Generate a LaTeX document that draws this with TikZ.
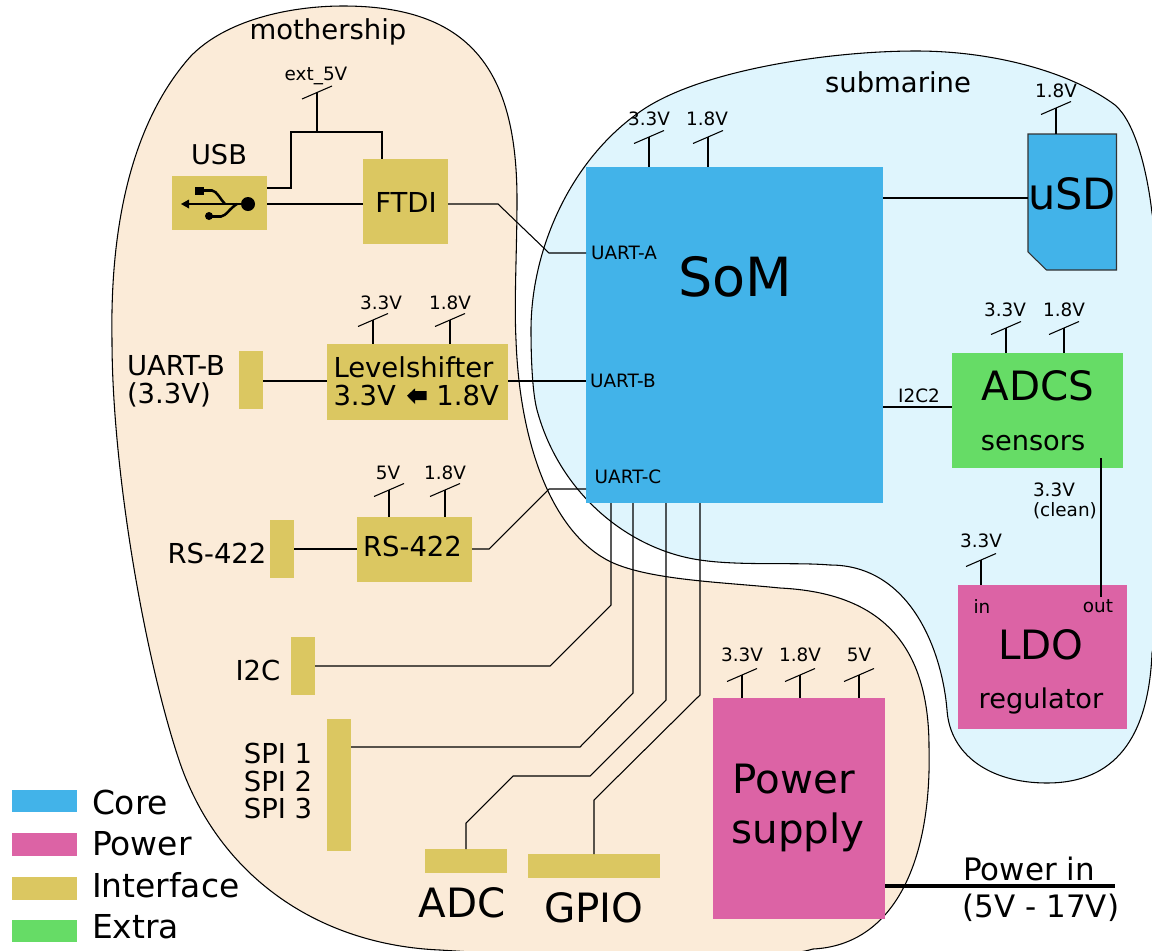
\documentclass[tikz,border=0pt]{standalone}
\usepackage{fontspec}
\setmainfont{DejaVu Sans}

\definecolor{corecol}{RGB}{66,179,233}
\definecolor{powercol}{RGB}{220,99,165}
\definecolor{ifacecol}{RGB}{219,199,97}
\definecolor{extracol}{RGB}{102,220,102}
\definecolor{mothercol}{RGB}{251,235,216}
\definecolor{subcol}{RGB}{223,245,253}

\tikzset{
	wire/.style={line width=0.8pt, line join=miter},
	blob/.style={line width=0.8pt, draw=black},
	block/.style 2 args={inner sep=0pt, outer sep=0pt, rectangle, minimum width=#1*0.75pt, minimum height=#2*0.75pt},
	txt/.style={inner sep=0pt, outer sep=0pt, font=\fontsize{#1}{#1}\selectfont},
}

% tick on a supply rail: name, position, label position, label
\newcommand{\railtick}[4]{
	\coordinate (#1) at (#2);
	\draw[wire] ([shift={(-15,6.5)}]#1) -- ([shift={(15,-6.5)}]#1);
	\node[txt=13.8] (#1text) at (#3) {#4};
}

\begin{document}
\begin{tikzpicture}[x=0.75pt, y=-0.75pt]
	\useasboundingbox (0,0) rectangle (1152,950);
	
	% Hai vùng nền
	\fill[white] (0,0) rectangle (1152,950);
	\draw[blob, fill=mothercol] (343,6) .. controls (470,6) and (517,70) .. (517,200)
		.. controls (517,250) and (514,300) .. (516,340)
		.. controls (520,450) and (555,535) .. (611,562)
		.. controls (650,580) and (720,582) .. (780,588)
		.. controls (860,592) and (929,625) .. (929,747)
		.. controls (932,860) and (895,945) .. (813,949)
		.. controls (760,965) and (560,958) .. (440,950)
		.. controls (320,945) and (220,878) .. (180,763)
		.. controls (145,660) and (112,470) .. (112,340)
		.. controls (110,230) and (130,125) .. (190,57)
		.. controls (225,20) and (290,6) .. (343,6) -- cycle;
	\draw[blob, fill=subcol] (916,51) .. controls (1000,51) and (1075,75) .. (1115,105)
		.. controls (1135,122) and (1147,170) .. (1152,213)
		.. controls (1180,350) and (1175,550) .. (1152,653)
		.. controls (1148,750) and (1105,783) .. (1047,783)
		.. controls (990,783) and (950,755) .. (947,710)
		.. controls (942,650) and (910,565) .. (830,565)
		.. controls (795,562) and (740,566) .. (700,560)
		.. controls (630,550) and (560,495) .. (537,410)
		.. controls (533,395) and (531,365) .. (531,330)
		.. controls (531,250) and (570,160) .. (641,111)
		.. controls (700,70) and (830,51) .. (916,51) -- cycle;
	
	% Khối chính
	\node[block={297}{336}, fill=corecol] (som) at (734.5,335) {};
	\node[txt=40.5] (somtext) at (735,277) {SoM};
	\node[txt=13.8] (uarta) at (624,253) {UART-A};
	\node[txt=13.8] (uartb) at (623,381) {UART-B};
	\node[txt=13.8] (uartc) at (628,477) {UART-C};
	
	% uSD
	\draw[line width=0.8pt, draw=black!80, fill=corecol] (1028,134) -- (1116.5,134) -- (1116.5,270) -- (1046.5,270) -- (1028,252) -- cycle;
	\node[block={88.5}{136}] (usd) at (1072.25,202) {};
	\node[txt=32.3] (usdtext) at (1072,194) {uSD};
	
	% Các khối giao tiếp
	\node[block={95}{54}, fill=ifacecol] (usb) at (219.5,203) {};
	\node[block={85}{85}, fill=ifacecol] (ftdi) at (405.5,201.5) {};
	\node[txt=20.6] (ftditext) at (406,202) {FTDI};
	\node[block={181}{76}, fill=ifacecol] (ls) at (417.5,382) {};
	\node[txt=20.6, align=left, anchor=west] (lstext) at (333.5,381) {Levelshifter\\[0.5pt]3.3V \phantom{⬅} 1.8V};
	\fill (407,395.7) -- (415,388.3) -- (415,391) -- (426.7,391) -- (426.7,400) -- (415,400) -- (415,404) -- cycle;
	\node[block={24}{58}, fill=ifacecol] (uartbport) at (251,380) {};
	\node[block={115}{65}, fill=ifacecol] (rs) at (414.5,549.5) {};
	\node[txt=20.6] (rstext) at (412.5,546) {RS-422};
	\node[block={24}{58}, fill=ifacecol] (rsport) at (282,549) {};
	\node[block={24}{58}, fill=ifacecol] (i2cport) at (303,666) {};
	\node[block={24}{132}, fill=ifacecol] (spiport) at (339,785) {};
	\node[block={82}{24}, fill=ifacecol] (adc) at (466,861) {};
	\node[block={132}{24}, fill=ifacecol] (gpio) at (594,866) {};
	
	% Nguồn và phần mở rộng
	\node[block={172}{221}, fill=powercol] (psu) at (799,808.5) {};
	\node[block={169}{144}, fill=powercol] (ldo) at (1042.5,657) {};
	\node[block={171}{115}, fill=extracol] (adcs) at (1037.5,410.5) {};
	
	% Biểu tượng USB
	\draw[line width=1.9pt] (186,204) -- (248,204);
	\fill (181,204) -- (189,199.5) -- (189,208.5) -- cycle;
	\fill (248,204) circle (7);
	\fill (195,187) rectangle (203.5,195);
	\draw[line width=1.9pt] (203,190.5) -- (212,190.5) .. controls (217,191) and (220,199) .. (225,204);
	\fill (209,216) circle (4);
	\draw[line width=1.9pt] (209,216.5) -- (221,216.5) .. controls (226,216) and (230,208) .. (237,204);
	
	% Nhãn
	\node[txt=20.6] (mothership) at (328,32) {mothership};
	\node[txt=20.6] (submarine) at (898,82) {submarine};
	\node[txt=20.4] (usblabel) at (219,155) {USB};
	\node[txt=20.6, align=left, anchor=west] (uartblabel) at (127,381) {UART-B\\[0.5pt](3.3V)};
	\node[txt=20.6] (rslabel) at (217,553) {RS-422};
	\node[txt=20.6] (i2clabel) at (258,670) {I2C};
	\node[txt=20.6, align=center] (spilabel) at (278,781) {SPI 1\\SPI 2\\SPI 3};
	\node[txt=30.3] (adclabel) at (462,903) {ADC};
	\node[txt=30.3] (gpiolabel) at (594,908) {GPIO};
	\node[txt=30.3] (psulabel1) at (794,779) {Power};
	\node[txt=30.3] (psulabel2) at (798,832) {supply};
	\node[txt=30.3] (ldolabel) at (1041,645) {LDO};
	\node[txt=20.4] (ldosub) at (1041,701) {regulator};
	\node[txt=13.8] (ldoin) at (982,606) {in};
	\node[txt=13.8] (ldoout) at (1098,606) {out};
	\node[txt=30.3] (adcslabel) at (1038,386) {ADCS};
	\node[txt=20.4] (adcssub) at (1033,443) {sensors};
	\node[txt=13.8] (i2ctwo) at (919,396) {I2C2};
	\node[txt=13.8, align=left, anchor=west] (cleanlabel) at (1033,501) {3.3V\\[1pt](clean)};
	\node[txt=23.2] (powerin1) at (1029,869) {Power in};
	\node[txt=23.2] (powerin2) at (1041,908) {(5V - 17V)};
	
	% Các đường điện áp
	\railtick{extfive}{317,92.5}{316,76}{ext\_5V}
	\railtick{som33}{649,137}{649,119}{3.3V}
	\railtick{som18}{708,137}{707,119}{1.8V}
	\railtick{usd18}{1056,108}{1056,91}{1.8V}
	\railtick{ls33}{373,320}{381,303}{3.3V}
	\railtick{ls18}{450,320}{450,303}{1.8V}
	\railtick{rs5}{389,490}{388,473}{5V}
	\railtick{rs18}{445,490}{445,473}{1.8V}
	\railtick{adcs33}{1006,328}{1005,310}{3.3V}
	\railtick{adcs18}{1064,328}{1064,310}{1.8V}
	\railtick{ldo33}{981,560}{981,541}{3.3V}
	\railtick{psu33}{742,675}{742,655}{3.3V}
	\railtick{psu18}{800,675}{800,655}{1.8V}
	\railtick{psu5}{859,675}{859,655}{5V}
	
	\draw[wire] (som33) -- (som33 |- som.north);
	\draw[wire] (som18) -- (som18 |- som.north);
	\draw[wire] (usd18) -- (usd18 |- usd.north);
	\draw[wire] (ls33) -- (ls33 |- ls.north);
	\draw[wire] (ls18) -- (ls18 |- ls.north);
	\draw[wire] (rs5) -- (rs5 |- rs.north);
	\draw[wire] (rs18) -- (rs18 |- rs.north);
	\draw[wire] (adcs33) -- (adcs33 |- adcs.north);
	\draw[wire] (adcs18) -- (adcs18 |- adcs.north);
	\draw[wire] (ldo33) -- (ldo33 |- ldo.north);
	\draw[wire] (psu33) -- (psu33 |- psu.north);
	\draw[wire] (psu18) -- (psu18 |- psu.north);
	\draw[wire] (psu5) -- (psu5 |- psu.north);
	
	% Dây nối
	\draw[wire] (extfive) -- (317,132);
	\draw[wire] (usb.east |- 0,188) -- (291,188) -- (291,132) -- (382,132) -- (ftdi.north -| 382,0);
	\draw[wire] (usb.east |- 0,204) -- (ftdi.west |- 0,204);
	\draw[wire] (ftdi.east |- 0,204) -- (498,204) -- (549,253) -- (som.west |- 0,253);
	\draw[wire] (uartbport.east |- 0,381) -- (ls.west |- 0,381);
	\draw[wire] (ls.east |- 0,381) -- (som.west |- 0,381);
	\draw[wire] (rsport.east |- 0,549) -- (rs.west |- 0,549);
	\draw[wire] (rs.east |- 0,549) -- (489,549) -- (549,489) -- (som.west |- 0,489);
	\draw[wire] (i2cport.east) -- (550,666) -- (611,605) -- (som.south -| 611,0);
	\draw[wire] (spiport.east |- 0,747) -- (580,747) -- (633,693) -- (som.south -| 633,0);
	\draw[wire] (adc.north -| 466,0) -- (466,823) -- (513,776) -- (590,776) -- (666,700) -- (som.south -| 666,0);
	\draw[wire] (gpio.north) -- (594,800) -- (700,695) -- (som.south -| 700,0);
	\draw[wire] (som.east |- 0,198) -- (usd.west |- 0,198);
	\draw[wire] (som.east |- 0,407) -- (adcs.west |- 0,407);
	\draw[wire] (1101,458) -- (1101,597);
	\draw[line width=3pt] (psu.east |- 0,886) -- (1115,886);
	
	% Chú giải
	\fill[corecol] (12,790) rectangle (77,812);
	\fill[powercol] (12,833) rectangle (77,856);
	\fill[ifacecol] (12,877) rectangle (77,900);
	\fill[extracol] (12,920) rectangle (77,942);
	\node[txt=24.7, anchor=west] (legcore) at (92,802) {Core};
	\node[txt=24.7, anchor=west] (legpower) at (92,844) {Power};
	\node[txt=24.7, anchor=west] (legiface) at (92,885) {Interface};
	\node[txt=24.7, anchor=west] (legextra) at (92,927) {Extra};
\end{tikzpicture}
\end{document}
